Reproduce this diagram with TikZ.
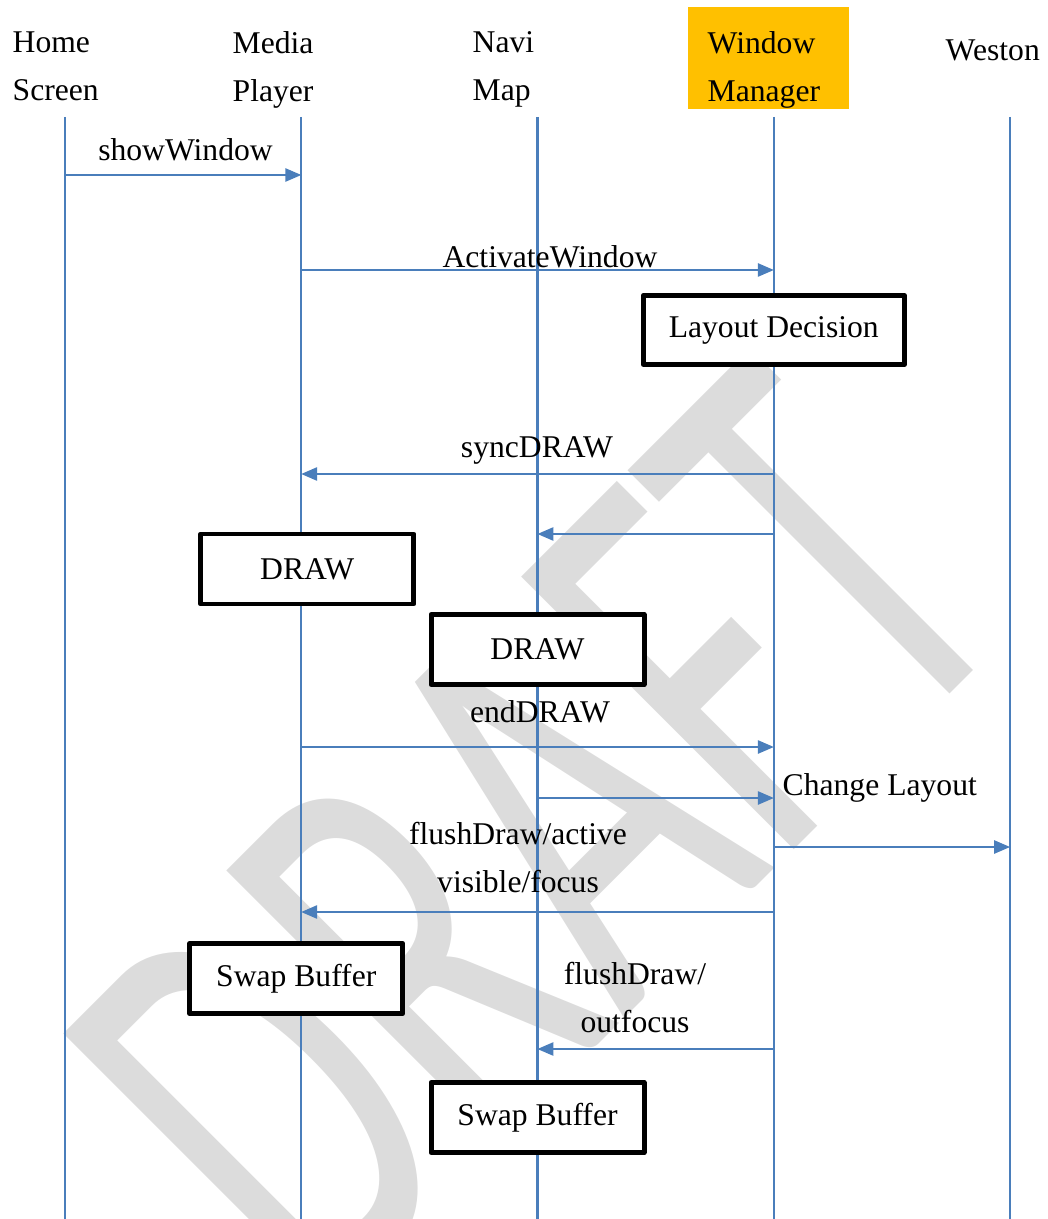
\documentclass[tikz,border=0pt]{standalone}
\usepackage{fontspec}
\setmainfont{Liberation Serif}
\newfontfamily\draftfont{Carlito}
\usetikzlibrary{arrows.meta,positioning}

\definecolor{lineblue}{RGB}{74,126,187}
\definecolor{wmgold}{RGB}{255,192,0}
\definecolor{draftgray}{RGB}{220,220,220}

\begin{document}
\begin{tikzpicture}[>={Triangle[length=4.5pt,width=3.8pt]},
  every node/.style={font=\fontsize{9}{13.66}\selectfont, inner sep=0pt},
  node distance=2.3625cm,
  life/.style={coordinate},
  lifeline/.style={draw=lineblue, line width=0.6pt},
  msg/.style={->, draw=lineblue, line width=0.35pt},
  head/.style={anchor=north west, align=left},
  lbl/.style={anchor=base},
  task/.style={draw, fill=white, line width=1.42pt, line join=round,
    minimum width=2.13cm, minimum height=0.70cm}]
  \useasboundingbox (0,0) rectangle (10.47,-12.19);

  % watermark
  \node[rotate=45, xscale=0.62, text=draftgray,
    font=\draftfont\fontsize{171}{171}\selectfont] (draft) at (5.36,-8.35) {DRAFT};

  % heads
  \node[fill=wmgold, minimum width=1.61cm, minimum height=1.02cm] (wmBox) at (7.685,-0.58) {};
  \node[head] (hsT) at (0.12,-0.311) {Home\\Screen};
  \node[head] (mpT) at (2.32,-0.305) {Media\\Player};
  \node[head] (nmT) at (4.72,-0.311) {Navi\\Map};
  \begin{scope}
    \clip (wmBox.south west) rectangle (wmBox.north east);
    \node[head] (wmT) at (7.07,-0.305) {Window\\Manager};
  \end{scope}
  \node[anchor=base west] (wsT) at (9.45,-0.61) {Weston};

  % lifelines
  \node[life] (hs) at (0.65,-1.17) {};
  \node[life, right of=hs] (mp) {};
  \node[life, right of=mp] (nm) {};
  \node[life, right of=nm] (wm) {};
  \node[life, right of=wm] (ws) {};
  \coordinate (bottom) at (0,-12.19);
  \foreach \n in {hs,mp,nm,wm,ws}
    \draw[lifeline] (\n) -- (\n |- bottom);

  % rows
  \coordinate (r1) at (0,-1.75);
  \coordinate (r2) at (0,-2.70);
  \coordinate (r3) at (0,-4.74);
  \coordinate (r4) at (0,-5.34);
  \coordinate (r5) at (0,-7.47);
  \coordinate (r6) at (0,-7.98);
  \coordinate (r7) at (0,-8.47);
  \coordinate (r8) at (0,-9.12);
  \coordinate (r9) at (0,-10.49);

  % messages
  \draw[msg] (hs |- r1) -- (mp |- r1);
  \draw[msg] (mp |- r2) -- (wm |- r2);
  \draw[msg] (wm |- r3) -- (mp |- r3);
  \draw[msg] (wm |- r4) -- (nm |- r4);
  \draw[msg] (mp |- r5) -- (wm |- r5);
  \draw[msg] (nm |- r6) -- (wm |- r6);
  \draw[msg] (wm |- r7) -- (ws |- r7);
  \draw[msg] (wm |- r8) -- (mp |- r8);
  \draw[msg] (wm |- r9) -- (nm |- r9);

  \node[lbl] (showL) at (1.855,-1.61) {showWindow};
  \node[lbl] (actL) at (5.50,-2.68) {ActivateWindow};
  \node[lbl] (syncL) at (5.37,-4.58) {syncDRAW};
  \node[lbl] (endL) at (5.40,-7.22) {endDRAW};
  \node[anchor=base west] (chgL) at (7.82,-7.95) {Change Layout};
  \node[anchor=north, align=center] (flushL) at (5.18,-8.215) {flushDraw/active\\visible/focus};
  \node[anchor=north, align=center] (outL) at (6.35,-9.615) {flushDraw/\\outfocus};

  % boxes
  \coordinate (b1) at (0,-3.30);
  \coordinate (b2) at (0,-5.69);
  \coordinate (b3) at (0,-6.495);
  \coordinate (b4) at (0,-9.785);
  \coordinate (b5) at (0,-11.175);
  \node[task, minimum width=2.61cm, minimum height=0.69cm] (layout) at (wm |- b1) {Layout Decision};
  \node[task, xshift=0.06cm] (mpDraw) at (mp |- b2) {DRAW};
  \node[task] (nmDraw) at (nm |- b3) {DRAW};
  \node[task, xshift=-0.05cm] (mpSwap) at (mp |- b4) {Swap Buffer};
  \node[task] (nmSwap) at (nm |- b5) {Swap Buffer};
\end{tikzpicture}
\end{document}
